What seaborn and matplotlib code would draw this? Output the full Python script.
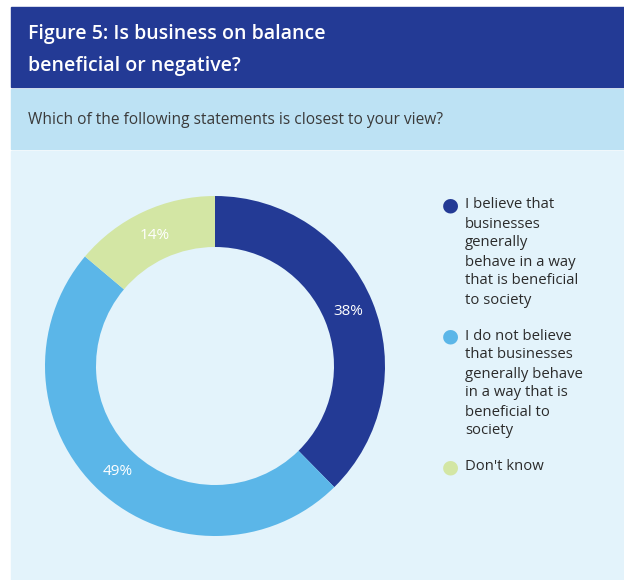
import matplotlib.pyplot as plt
import matplotlib.patches as mpatches
import numpy as np
import seaborn as sns

# data
categories = ["I believe that\nbusinesses\ngenerally\nbehave in a way\nthat is beneficial\nto society",
              "I do not believe\nthat businesses\ngenerally behave\nin a way that is\nbeneficial to\nsociety",
              "Don't know"]
values = [38, 49, 14]
pct_labels = ["38%", "49%", "14%"]
colors = ["#233a95", "#5bb6e8", "#d3e6a4"]

title = "Figure 5: Is business on balance\nbeneficial or negative?"
question = "Which of the following statements is closest to your view?"

sns.set_theme(style="white")
plt.rcParams['font.family'] = ['Open Sans', 'DejaVu Sans']

W, H = 624, 580
fig = plt.figure(figsize=(W / 100, H / 100), dpi=100)
fig.patch.set_facecolor("white")


def fx(px):
    return px / W


def fy(py):
    return 1 - py / H


# background bands (pixel boxes turned into figure fractions)
def band(x0, y0, x1, y1, color):
    fig.patches.append(mpatches.Rectangle((fx(x0), fy(y1)), fx(x1) - fx(x0), fy(y0) - fy(y1),
                                          transform=fig.transFigure, color=color, zorder=-5))


band(11, 7, 624, 87, "#233a95")
band(11, 89, 624, 149, "#bde2f4")
band(11, 151, 624, 580, "#e3f3fb")

# title
for i, line in enumerate(title.split("\n")):
    fig.text(fx(28), fy(34 + i * 32), line, color="white", fontsize=14,
             fontweight="semibold", va="center", ha="left")

fig.text(fx(28), fy(120), question, color="#3a3a3a", fontsize=11.2, va="center", ha="left")

# donut
cx, cy, r = 215, 366, 170
ax = fig.add_axes([fx(cx - r), fy(cy + r), fx(2 * r), (2 * r) / H])
ax.set_facecolor("none")
ax.set_zorder(2)
wedges, _ = ax.pie(values, colors=colors, startangle=90, counterclock=False, radius=1,
                   wedgeprops=dict(width=0.3, edgecolor="none"))
for w, lab in zip(wedges, pct_labels):
    ang = np.deg2rad((w.theta1 + w.theta2) / 2)
    ax.text(0.845 * np.cos(ang), 0.845 * np.sin(ang), lab, color="white",
            fontsize=11, ha="center", va="center")
ax.set_xlim(-1, 1)
ax.set_ylim(-1, 1)
ax.set_aspect("equal")
ax.axis("off")

# legend, drawn by hand so the dot sits on the first line
line_h, gap = 19, 17
y = 205
for lab, col in zip(categories, colors):
    fig.text(fx(450), fy(y), "\u25cf", color=col, fontsize=14, ha="center", va="center",
             family="DejaVu Sans")
    lines = lab.split("\n")
    for j, ln in enumerate(lines):
        fig.text(fx(465), fy(y + j * line_h), ln, color="#2b2b2b", fontsize=10.7,
                 ha="left", va="center")
    y += len(lines) * line_h + gap

fig.savefig("out.png", dpi=100)
